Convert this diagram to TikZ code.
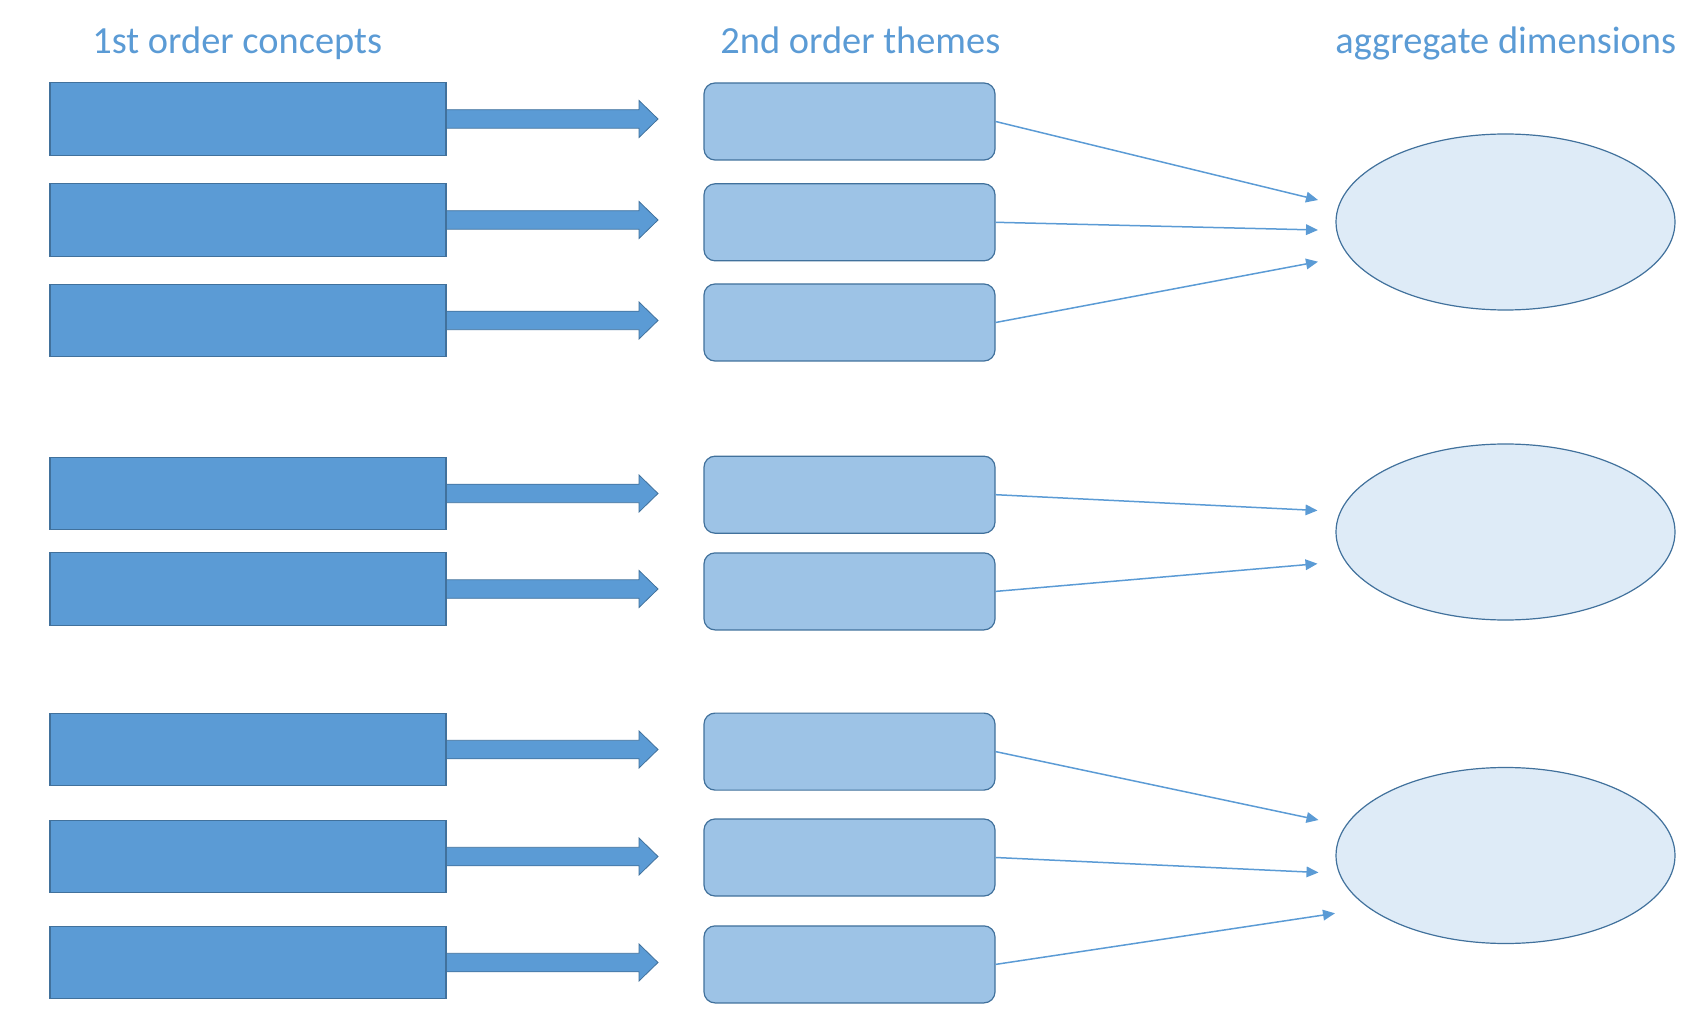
\documentclass[tikz,border=0pt]{standalone}
\usepackage{fontspec}
\setmainfont{Carlito}
\usetikzlibrary{arrows.meta,shapes.geometric}
\definecolor{accent}{HTML}{5B9BD5}
\definecolor{edge}{HTML}{41719C}
\definecolor{themefill}{HTML}{9DC3E6}
\definecolor{dimfill}{HTML}{DEEBF7}
\tikzset{
  concept/.style={draw=edge, fill=accent, line width=0.6pt, minimum width=198pt, minimum height=36.25pt, inner sep=0pt},
  theme/.style={draw=edge, fill=themefill, line width=0.6pt, rounded corners=5.5pt, minimum width=145.5pt, minimum height=38.5pt, inner sep=0pt},
  dimension/.style={ellipse, draw=edge, fill=dimfill, line width=0.6pt, minimum width=169.5pt, minimum height=88pt, inner sep=0pt},
  header/.style={anchor=base west, text=accent, font=\fontsize{19.2pt}{23pt}\selectfont, inner sep=0pt},
  blockarrow/.style={draw=edge, fill=accent, line width=0.4pt},
  link/.style={draw=accent, line width=0.75pt, -{Triangle[length=6pt, width=5.3pt]}}
}
\begin{document}
\begin{tikzpicture}[x=0.5pt, y=-0.5pt]
\useasboundingbox (0,0) rectangle (1703,1010);
% headers
\node[header] (h1) at (92,53.5) {1st order concepts};
\node[header] (h2) at (720,53.5) {2nd order themes};
\node[header] (h3) at (1335,53.5) {aggregate dimensions};
% block arrows and concept rectangles
\foreach \i/\y in {1/119, 2/220, 3/320.5, 4/493.5, 5/589, 6/749.5, 7/856.5, 8/962.5} {
  \draw[blockarrow] (440,\y-9.25) -- (639,\y-9.25) -- (639,\y-18.5) -- (658,\y) -- (639,\y+18.5) -- (639,\y+9.25) -- (440,\y+9.25) -- cycle;
  \node[concept] (c\i) at (248,\y) {};
}
% theme boxes
\foreach \i/\y in {1/121.5, 2/222.3, 3/322.5, 4/494.7, 5/591.4, 6/751.6, 7/857.5, 8/964.4} {
  \node[theme] (t\i) at (849.5,\y) {};
}
% aggregate dimensions
\node[dimension] (d1) at (1505.5,222) {};
\node[dimension] (d2) at (1505.5,532) {};
\node[dimension] (d3) at (1505.5,855.5) {};
% arrow end points
\coordinate (e1) at (1318,200);
\coordinate (e2) at (1318,230);
\coordinate (e3) at (1318,261.7);
\coordinate (e4) at (1317.5,510.5);
\coordinate (e5) at (1317.5,563.7);
\coordinate (e6) at (1318.5,820);
\coordinate (e7) at (1318.5,872.5);
\coordinate (e8) at (1335,913.3);
\foreach \i in {1,...,8} {
  \draw[link] (t\i.east) -- (e\i);
}
\end{tikzpicture}
\end{document}
